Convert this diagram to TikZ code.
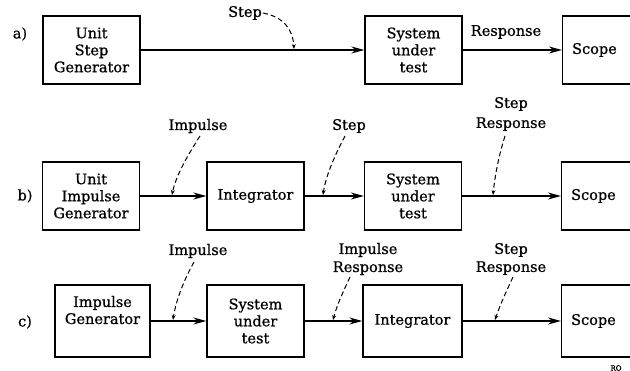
\documentclass[tikz,border=0pt]{standalone}
\usepackage{fontspec}
\setmainfont{DejaVu Serif}[FakeBold=0.8]
\usetikzlibrary{arrows.meta}
\newcommand\mainfnt{\fontsize{14.5}{17}\selectfont}
\begin{document}
\begin{tikzpicture}[x=1pt,y=-1pt,
  box/.style={draw, line width=1.3pt, minimum width=97pt, minimum height=68pt, align=center, inner sep=2pt, font=\mainfnt},
  scopebox/.style={draw, line width=1.3pt, minimum height=68pt, text width=71pt, inner xsep=9.5pt, align=left, anchor=west, font=\mainfnt},
  sig/.style={line width=1.3pt, -{Stealth[length=13pt,width=7pt]}},
  lbl/.style={font=\mainfnt, align=center, inner sep=1pt},
  pointer/.style={line width=1pt, dash pattern=on 5pt off 3pt, -{Stealth[length=5pt,width=4pt]}}]
\useasboundingbox (0,0) rectangle (630,371);
\clip (0,0) rectangle (630,371);

% row labels
\node[lbl] (la) at (20,34) {a)};
\node[lbl] (lb) at (25,196) {b)};
\node[lbl] (lc) at (25,322) {c)};

% row a
\node[box] (a1) at (91.5,50) {Unit\\Step\\Generator};
\node[box] (a2) at (413.5,50) {System\\under\\test};
\node[scopebox] (a3) at (562,50) {Scope};
\draw[sig] (a1) -- (a2);
\draw[sig] (a2) -- (a3);
\node[lbl] (stepA) at (245,13) {Step};
\node[lbl] (respA) at (506,32) {Response};
\coordinate (pA) at (294,49);
\draw[pointer] (stepA.east) .. controls (284,17) and (293,30) .. (pA);

% row b
\node[box] (b1) at (91,196) {Unit\\Impulse\\Generator};
\node[box] (b2) at (255.5,196) {Integrator};
\node[box] (b3) at (413,196) {System\\under\\test};
\node[scopebox] (b4) at (561,196) {Scope};
\draw[sig] (b1) -- (b2);
\draw[sig] (b2) -- (b3);
\draw[sig] (b3) -- (b4);
\node[lbl] (impB) at (198,126) {Impulse};
\node[lbl] (stepB) at (349,126) {Step};
\node[lbl] (srB) at (511,114) {Step\\[3pt]Response};
\coordinate (pB1) at (172,195);
\coordinate (pB2) at (323,195);
\coordinate (pB3) at (493,195);
\draw[pointer] (200,136) .. controls (188,155) and (176,175) .. (pB1);
\draw[pointer] (345,136) .. controls (335,155) and (326,175) .. (pB2);
\draw[pointer] (505,136) .. controls (499,155) and (495,175) .. (pB3);

% row c
\node[box, minimum width=95pt, minimum height=72pt] (c1) at (102.5,321) {Impulse\\Generator\\\strut};
\node[box, minimum height=72pt] (c2) at (255.5,321) {System\\under\\test};
\node[box, minimum width=99pt, minimum height=72pt] (c3) at (412.5,321) {Integrator};
\node[scopebox, minimum height=72pt] (c4) at (561,321) {Scope};
\draw[sig] (c1) -- (c2);
\draw[sig] (c2) -- (c3);
\draw[sig] (c3) -- (c4);
\node[lbl] (impC) at (198,251) {Impulse};
\node[lbl] (irC) at (368,259) {Impulse\\[1pt]Response};
\node[lbl] (srC) at (511,259) {Step\\[1pt]Response};
\coordinate (pC1) at (173,320);
\coordinate (pC2) at (333,320);
\coordinate (pC3) at (495,320);
\draw[pointer] (194,262) .. controls (184,280) and (176,300) .. (pC1);
\draw[pointer] (350,277) .. controls (343,292) and (337,305) .. (pC2);
\draw[pointer] (513,277) .. controls (506,292) and (500,305) .. (pC3);

\node[font=\fontsize{7}{8}\selectfont, inner sep=0pt] (ro) at (616,368) {RO};
\end{tikzpicture}
\end{document}
